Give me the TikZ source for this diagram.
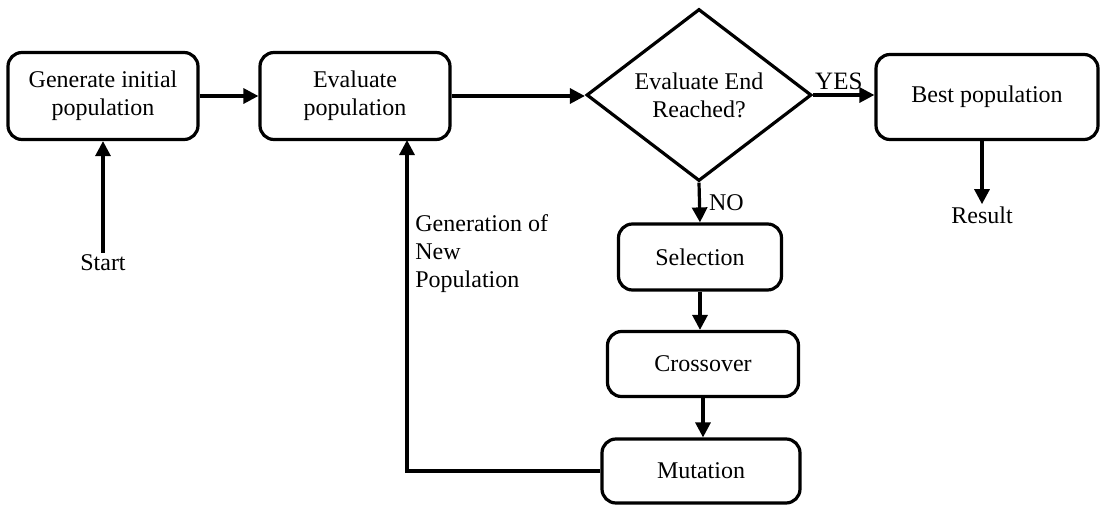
\documentclass[tikz,border=0pt]{standalone}
\usepackage{fontspec}
\setmainfont{Liberation Serif}
\usetikzlibrary{positioning,arrows.meta,shapes.geometric}

\tikzset{
  stage/.style={draw,line width=1.6pt,rounded corners=7pt,align=center,inner sep=2pt},
  decide/.style={draw,line width=1.6pt,shape=diamond,aspect=1.31,inner sep=0pt,align=center},
  flow/.style={line width=1.6pt,-{Triangle[length=7.5pt,width=7.5pt]}},
  tag/.style={inner sep=1pt,align=left}
}

\begin{document}
\begin{tikzpicture}[x=0.5pt,y=-0.5pt,font=\fontsize{12}{14}\selectfont]
  \useasboundingbox (0,0) rectangle (1104,504);
  % boxes along the top row
  \node[stage,minimum width=95pt,minimum height=43.5pt] (gen) at (103,96) {Generate initial\\population};
  \node[stage,minimum width=95pt,minimum height=43.5pt] (eval) at (355,96) {Evaluate\\population};
  \node[decide,minimum width=112.5pt,minimum height=86pt] (done) at (699,95) {Evaluate End\\Reached?};
  \node[stage,minimum width=111pt,minimum height=42.5pt] (best) at (987,97) {Best population};
  % operators
  \node[stage,minimum width=81.5pt,minimum height=33pt] (sel) at (700,257) {Selection};
  \node[stage,minimum width=95.5pt,minimum height=32.5pt] (cross) at (703,364) {Crossover};
  \node[stage,minimum width=99pt,minimum height=32pt] (mut) at (701,471) {Mutation};
  % free labels
  \node[tag] (start) at (103,263) {Start};
  \node[tag] (result) at (982,215) {Result};
  \node[tag,anchor=north west] (newpop) at (413,212) {Generation of\\New\\Population};
  \coordinate (back) at (407,140);

  \draw[flow] (start) -- (gen.south);
  \draw[flow] (gen.east) -- (gen.east -| eval.west);
  \draw[flow] (eval.east) -- (eval.east -| done.west);
  \draw[flow] (done.east) -- node[above,inner sep=2pt,pos=0.42,font=\fontsize{12.5}{14}\selectfont] (yes) {YES} (done.east -| best.west);
  \draw[flow] (best.south -| result) -- (result.north);
  \draw[flow] (done.south) -- node[right,inner sep=4pt] (no) {NO} (sel.north);
  \draw[flow] (sel.south) -- (sel.south |- cross.north);
  \draw[flow] (cross.south) -- (cross.south |- mut.north);
  \draw[flow] (mut.west) -| (back);
\end{tikzpicture}
\end{document}
